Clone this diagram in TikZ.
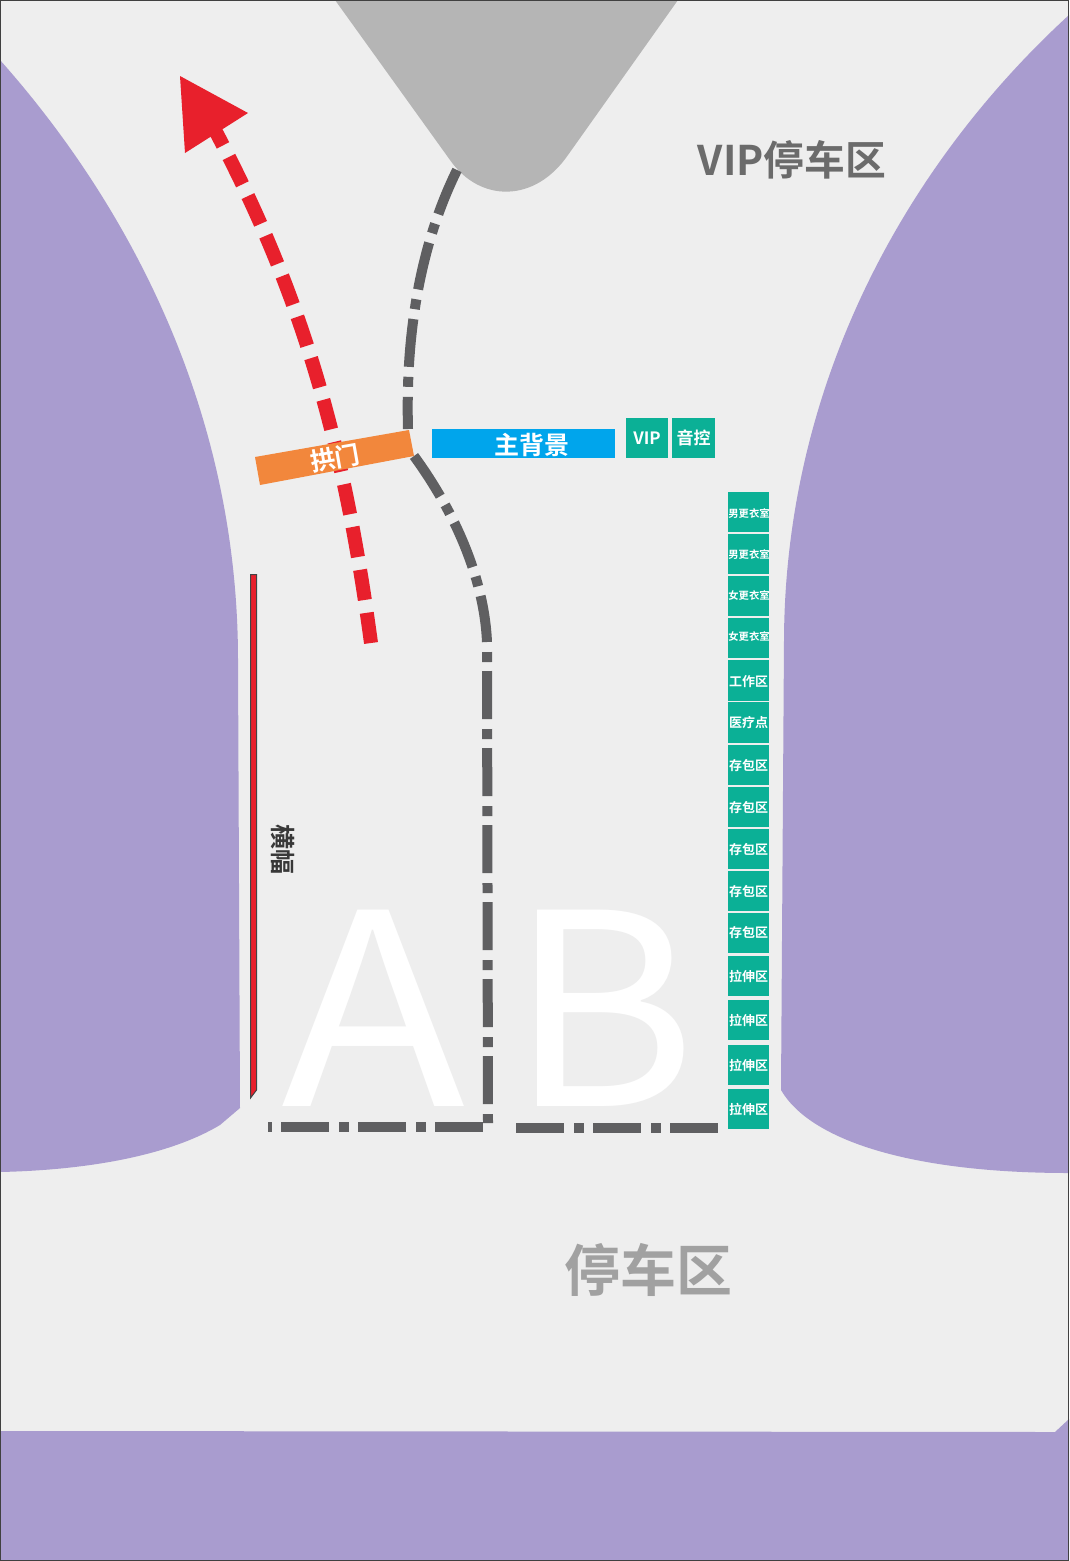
\documentclass[tikz,border=0pt]{standalone}
\usepackage{fontspec}
\setmainfont{Open Sans}
\newfontfamily\cjk{Noto Sans CJK SC}[BoldFont={Noto Sans CJK SC Bold}]
\usetikzlibrary{calc}
\definecolor{bgc}{HTML}{EEEEEE}
\definecolor{lav}{HTML}{A99CCF}
\definecolor{teal1}{HTML}{0BB096}
\definecolor{blue1}{HTML}{00A5EC}
\definecolor{orange1}{HTML}{F2873C}
\definecolor{red1}{HTML}{E8202C}
\definecolor{gray1}{HTML}{5F5F61}
\definecolor{grayv}{HTML}{B5B5B5}
\tikzset{
  lavshape/.style={fill=lav,draw=none},
  routeline/.style={draw=gray1,line width=10pt,dash pattern=on 48pt off 10pt on 10pt off 10pt},
  routeshort/.style={draw=gray1,line width=10pt,dash pattern=on 10pt off 9pt on 48pt off 10pt},
  redline/.style={draw=red1,line width=14pt,dash pattern=on 30.5pt off 13pt},
  tealbox/.style={fill=teal1,draw=none,minimum width=41.5pt,minimum height=40.5pt,inner sep=0pt,text=white,font=\cjk\bfseries\fontsize{13}{13}\selectfont},
  topbox/.style={tealbox,minimum height=40pt,minimum width=42pt,font=\cjk\bfseries\fontsize{17}{17}\selectfont},
  bigletter/.style={text=white,font=\cjk\fontsize{268}{268}\selectfont,inner sep=0pt,anchor=base}
}
\begin{document}
\begin{tikzpicture}[x=1pt,y=-1pt]
\useasboundingbox (0,0) rectangle (1069,1561);
\fill[bgc] (0,0) rectangle (1069,1561);
% purple areas
\path[lavshape] (0,60) .. controls (120,195) and (238,400) .. (238,660) -- (240,1108) -- (220,1125) .. controls (170,1155) and (90,1170) .. (0,1172) -- cycle;
\path[lavshape] (1069,15) .. controls (900,170) and (785,390) .. (784,640) -- (781,1090) .. controls (810,1140) and (910,1173) .. (1069,1173) -- cycle;
\path[lavshape] (0,1431) -- (1055,1432) -- (1069,1419) -- (1069,1561) -- (0,1561) -- cycle;
% venue gray
\fill[grayv] (335,0) -- (450,160) .. controls (480,203) and (535,203) .. (568,155) -- (678,0) -- cycle;
% big letters
\node[bigletter,xscale=1.13] (A) at (373.5,1106) {A};
\node[bigletter,xscale=1.07] (B) at (603,1106) {B};
% routes
\coordinate (r1s) at (457,170);
\coordinate (r1e) at (408,429);
\draw[routeline] (r1s) .. controls (425,235) and (405,320) .. (r1e);
\coordinate (r2s) at (414,456);
\coordinate (r2m) at (487,642);
\coordinate (r2v) at (487,652);
\coordinate (r2e) at (488,1123);
\draw[routeline] (r2s) .. controls (452,508) and (484,575) .. (r2m);
\draw[routeshort] (r2v) -- (r2e);
\coordinate (r3s) at (268,1127);
\coordinate (r3e) at (483,1127);
\draw[routeshort,dash phase=6pt] (r3s) -- (r3e);
\coordinate (r4s) at (516,1127.5);
\coordinate (r4e) at (718,1127.5);
\draw[routeline,dash pattern=on 48pt off 10pt on 10pt off 9pt] (r4s) -- (r4e);
% red arrow
\coordinate (as) at (371,643);
\coordinate (ae) at (216,132);
\draw[redline] (as) .. controls (345,450) and (305,300) .. (ae);
\fill[red1] (180,76) -- (248,113) -- (185,153) -- cycle;
% banner
\draw[fill=red1,draw=gray1!70!black,line width=1pt] (250.5,574.5) -- (256.5,574.5) -- (256.5,1090) -- (250.5,1098) -- cycle;
\node[rotate=-90,font=\cjk\bfseries\fontsize{25}{25}\selectfont,text=black!78,inner sep=0pt] (hf) at (283,849) {横幅};
% arch
\fill[orange1] (255,457) -- (409,430) -- (414,456) -- (260,485) -- cycle;
\node[rotate=10,text=white,font=\cjk\bfseries\fontsize{25}{25}\selectfont,inner sep=0pt] (gm) at (335,458) {拱门};
% stage
\fill[blue1] (432,429) rectangle (615,458);
\node[text=white,font=\cjk\bfseries\fontsize{25}{25}\selectfont,inner sep=0pt] (stage) at (531.5,445) {主背景};
\node[topbox] (vip) at (647,438) {VIP};
\node[topbox,minimum width=43pt] (yk) at (693.5,438) {音控};
% side boxes
\foreach \n/\y/\ty/\t in {a/512/513.5/男更衣室,b/553.5/554.5/男更衣室,c/595.5/595.5/女更衣室,d/638/636.5/女更衣室}{
  \fill[teal1] (727.75,\y-20) rectangle (769.25,\y+20);
  \node[text=white,font=\cjk\bfseries\fontsize{10.3}{10.3}\selectfont,inner sep=0pt] (box\n) at (749,\ty) {\t};
}
\foreach \n/\y/\ty/\t in {e/680.5/682/工作区,f/722.5/722.5/医疗点,g/765/765.5/存包区,h/807/807.5/存包区,i/849/849.5/存包区,j/891/891.5/存包区,k/933/933/存包区,l/976/976.5/拉伸区,m/1020/1020.5/拉伸区,n/1065/1065.5/拉伸区,o/1109/1109.5/拉伸区}{
  \fill[teal1] (727.75,\y-20.25) rectangle (769.25,\y+20.25);
  \node[text=white,font=\cjk\bfseries\fontsize{13}{13}\selectfont,inner sep=0pt] (box\n) at (748.5,\ty) {\t};
}
% labels
\node[text=black!58,font=\cjk\bfseries\fontsize{40.8}{40.8}\selectfont,inner sep=0pt] (vipp) at (792,160) {VIP停车区};
\node[text=black!37,font=\cjk\bfseries\fontsize{56}{56}\selectfont,inner sep=0pt] (park) at (648,1270) {停车区};
% frame
\draw[draw=black!75,line width=1pt] (0.5,0.5) rectangle (1068.5,1560.5);
\end{tikzpicture}
\end{document}
